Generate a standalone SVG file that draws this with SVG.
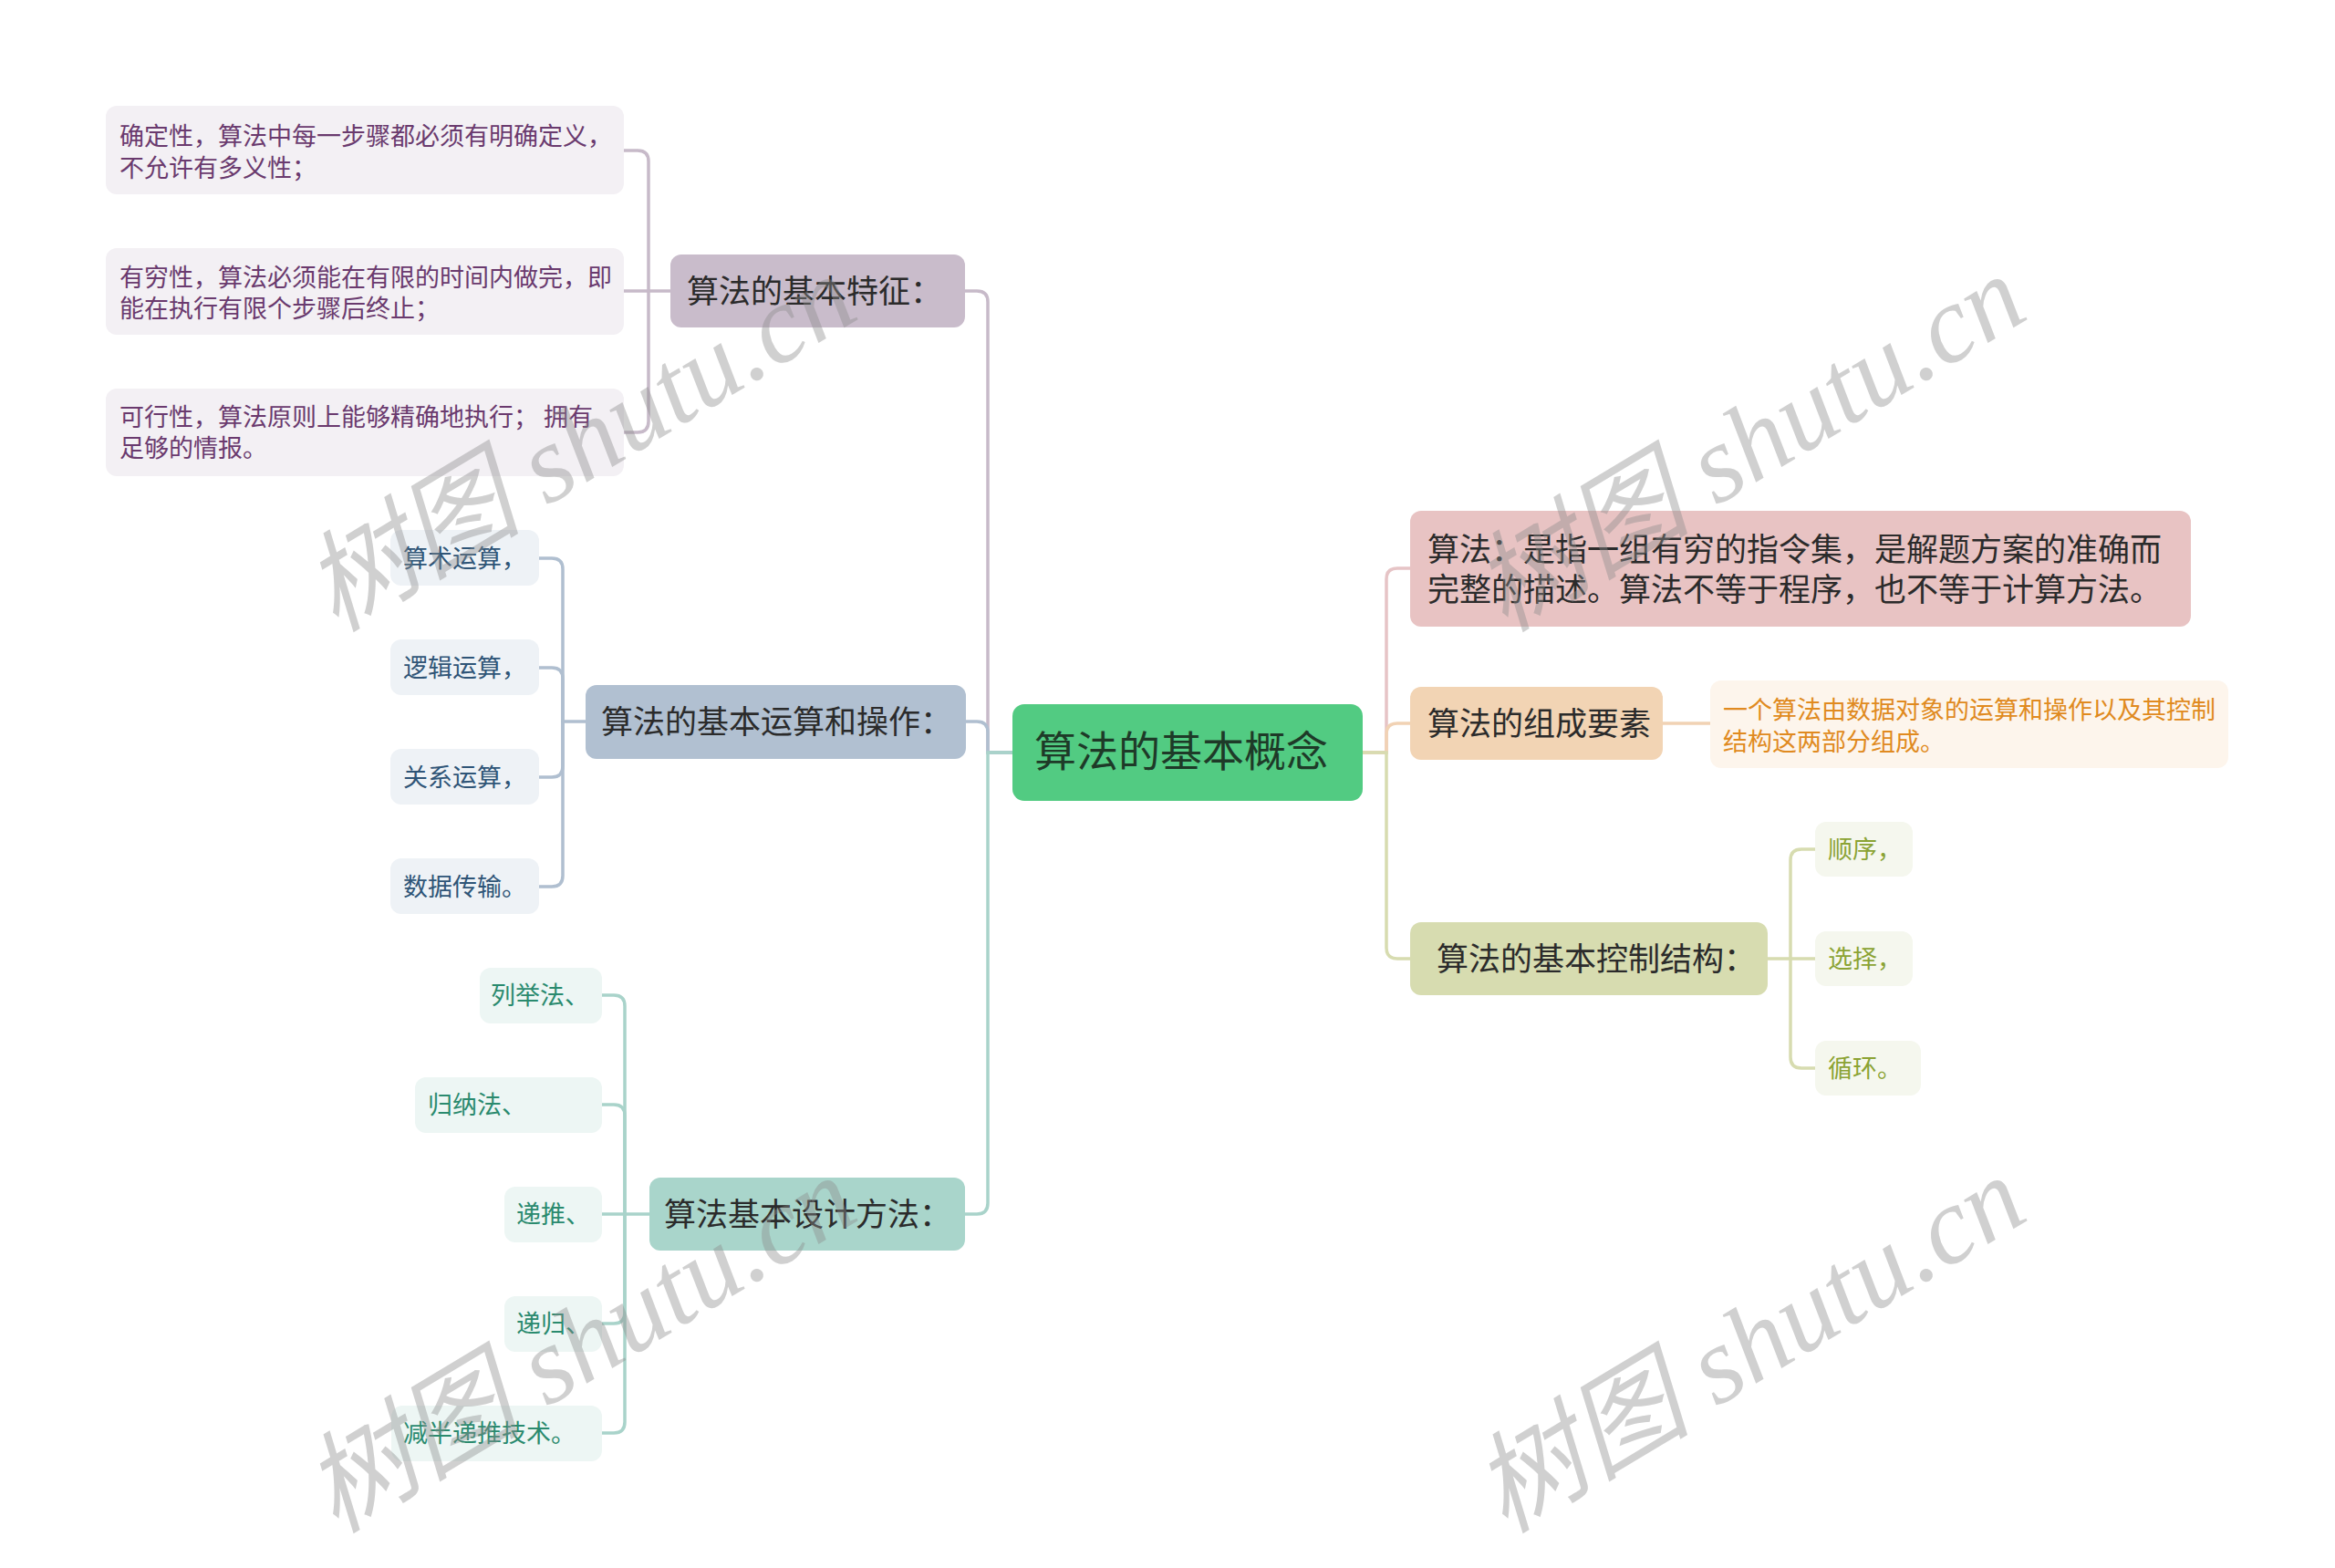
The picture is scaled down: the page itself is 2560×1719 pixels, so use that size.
<svg xmlns="http://www.w3.org/2000/svg" width="2560" height="1719" viewBox="0 0 2560 1719">
<style>
text{font-family:"Noto Sans CJK SC","Noto Sans",sans-serif}
.l1{font-size:35px;fill:#2b2b2b}
.root{font-size:46px;fill:#1e3a28}
.lf{font-size:27px}
.ln{fill:none;stroke-width:3.5;stroke-linecap:round}
.wm{font-family:"Liberation Serif","Noto Sans CJK SC",serif;font-size:120px;font-style:italic;fill:#8c8c8c;opacity:0.4}
</style>
<rect width="2560" height="1719" fill="#ffffff"/>
<g id="connectors">
  <path class="ln" stroke="#c7bac9" d="M1058,319 H1071 Q1083,319 1083,331 V825 H1110"/>
  <path class="ln" stroke="#b0bfd0" d="M1059,791 H1071 Q1083,791 1083,803 V825 H1110"/>
  <path class="ln" stroke="#a9d3ca" d="M1058,1331 H1071 Q1083,1331 1083,1319 V825 H1110"/>
  <path class="ln" stroke="#e6c4c6" d="M1494,825 H1520 V635 Q1520,623 1532,623 H1546"/>
  <path class="ln" stroke="#f1d2b4" d="M1494,825 H1520 V805 Q1520,793 1532,793 H1546"/>
  <path class="ln" stroke="#d7dcb0" d="M1494,825 H1520 V1039 Q1520,1051 1532,1051 H1546"/>
  <path class="ln" stroke="#c7bac9" d="M736,319 H711 V177 Q711,165 699,165 H684"/>
  <path class="ln" stroke="#c7bac9" d="M711,319 H684"/>
  <path class="ln" stroke="#c7bac9" d="M711,319 V462 Q711,474 699,474 H684"/>
  <path class="ln" stroke="#b0bfd0" d="M642,791 H617 V624 Q617,612 605,612 H591"/>
  <path class="ln" stroke="#b0bfd0" d="M617,791 V744 Q617,732 605,732 H591"/>
  <path class="ln" stroke="#b0bfd0" d="M617,791 V840 Q617,852 605,852 H591"/>
  <path class="ln" stroke="#b0bfd0" d="M617,791 V960 Q617,972 605,972 H591"/>
  <path class="ln" stroke="#a9d3ca" d="M712,1331 H685 V1103 Q685,1091 673,1091 H660"/>
  <path class="ln" stroke="#a9d3ca" d="M685,1331 V1223 Q685,1211 673,1211 H660"/>
  <path class="ln" stroke="#a9d3ca" d="M685,1331 H660"/>
  <path class="ln" stroke="#a9d3ca" d="M685,1331 V1439 Q685,1451 673,1451 H660"/>
  <path class="ln" stroke="#a9d3ca" d="M685,1331 V1559 Q685,1571 673,1571 H660"/>
  <path class="ln" stroke="#f1d2b4" d="M1823,793 H1876"/>
  <path class="ln" stroke="#d7dcb0" d="M1938,1051 H1963 V943 Q1963,931 1975,931 H1990"/>
  <path class="ln" stroke="#d7dcb0" d="M1963,1051 H1990"/>
  <path class="ln" stroke="#d7dcb0" d="M1963,1051 V1159 Q1963,1171 1975,1171 H1990"/>
</g>

<g id="root">
  <rect x="1110" y="772" width="384" height="106" rx="13" fill="#52cb82"/>
  <text class="root" x="1134" y="840">算法的基本概念</text>
</g>

<g id="n-tezheng">
  <rect x="735" y="279" width="323" height="80" rx="12" fill="#c9bccb"/>
  <text class="l1" x="753" y="332">算法的基本特征：</text>
</g>
<g id="n-queding">
  <rect x="116" y="116" width="568" height="97" rx="12" fill="#f3f0f4"/>
  <text class="lf" fill="#6a3a6e"><tspan x="131" y="159">确定性，算法中每一步骤都必须有明确定义，</tspan><tspan x="131" y="194">不允许有多义性；</tspan></text>
</g>
<g id="n-youqiong">
  <rect x="116" y="272" width="568" height="95" rx="12" fill="#f3f0f4"/>
  <text class="lf" fill="#6a3a6e"><tspan x="131" y="314">有穷性，算法必须能在有限的时间内做完，即</tspan><tspan x="131" y="348">能在执行有限个步骤后终止；</tspan></text>
</g>
<g id="n-kexing">
  <rect x="116" y="426" width="568" height="96" rx="12" fill="#f3f0f4"/>
  <text class="lf" fill="#6a3a6e"><tspan x="131" y="467">可行性，算法原则上能够精确地执行； 拥有</tspan><tspan x="131" y="501">足够的情报。</tspan></text>
</g>

<g id="n-yunsuan">
  <rect x="642" y="751" width="417" height="81" rx="12" fill="#b1c0d1"/>
  <text class="l1" x="659" y="804">算法的基本运算和操作：</text>
</g>
<g id="n-suanshu">
  <rect x="428" y="581" width="163" height="61" rx="12" fill="#eef2f6"/>
  <text class="lf" fill="#2f5577" x="442" y="622">算术运算，</text>
</g>
<g id="n-luoji">
  <rect x="428" y="701" width="163" height="61" rx="12" fill="#eef2f6"/>
  <text class="lf" fill="#2f5577" x="442" y="742">逻辑运算，</text>
</g>
<g id="n-guanxi">
  <rect x="428" y="821" width="163" height="61" rx="12" fill="#eef2f6"/>
  <text class="lf" fill="#2f5577" x="442" y="862">关系运算，</text>
</g>
<g id="n-shuju">
  <rect x="428" y="941" width="163" height="61" rx="12" fill="#eef2f6"/>
  <text class="lf" fill="#2f5577" x="442" y="982">数据传输。</text>
</g>

<g id="n-sheji">
  <rect x="712" y="1291" width="346" height="80" rx="12" fill="#a9d5cb"/>
  <text class="l1" x="728" y="1344">算法基本设计方法：</text>
</g>
<g id="n-lieju">
  <rect x="526" y="1061" width="134" height="61" rx="12" fill="#edf6f4"/>
  <text class="lf" fill="#2a8a6e" x="538" y="1101">列举法、</text>
</g>
<g id="n-guina">
  <rect x="455" y="1181" width="205" height="61" rx="12" fill="#edf6f4"/>
  <text class="lf" fill="#2a8a6e" x="469" y="1221">归纳法、</text>
</g>
<g id="n-ditui">
  <rect x="553" y="1301" width="107" height="61" rx="12" fill="#edf6f4"/>
  <text class="lf" fill="#2a8a6e" x="566" y="1341">递推、</text>
</g>
<g id="n-digui">
  <rect x="553" y="1421" width="107" height="61" rx="12" fill="#edf6f4"/>
  <text class="lf" fill="#2a8a6e" x="566" y="1461">递归、</text>
</g>
<g id="n-jianban">
  <rect x="429" y="1541" width="231" height="61" rx="12" fill="#edf6f4"/>
  <text class="lf" fill="#2a8a6e" x="442" y="1581">减半递推技术。</text>
</g>

<g id="n-dingyi">
  <rect x="1546" y="560" width="856" height="127" rx="12" fill="#e8c3c3"/>
  <text class="l1"><tspan x="1565" y="615">算法：是指一组有穷的指令集，是解题方案的准确而</tspan><tspan x="1565" y="659">完整的描述。算法不等于程序，也不等于计算方法。</tspan></text>
</g>
<g id="n-zucheng">
  <rect x="1546" y="753" width="277" height="80" rx="12" fill="#f2d4b4"/>
  <text class="l1" x="1565" y="806">算法的组成要素</text>
</g>
<g id="n-zucheng-leaf">
  <rect x="1875" y="746" width="568" height="96" rx="12" fill="#fdf5ec"/>
  <text class="lf" fill="#e08a20"><tspan x="1889" y="788">一个算法由数据对象的运算和操作以及其控制</tspan><tspan x="1889" y="823">结构这两部分组成。</tspan></text>
</g>
<g id="n-kongzhi">
  <rect x="1546" y="1011" width="392" height="80" rx="12" fill="#d7dcb0"/>
  <text class="l1" x="1575" y="1064">算法的基本控制结构：</text>
</g>
<g id="n-shunxu">
  <rect x="1990" y="901" width="107" height="60" rx="12" fill="#f5f7ee"/>
  <text class="lf" fill="#8ba334" x="2004" y="941">顺序，</text>
</g>
<g id="n-xuanze">
  <rect x="1990" y="1021" width="107" height="60" rx="12" fill="#f5f7ee"/>
  <text class="lf" fill="#8ba334" x="2004" y="1061">选择，</text>
</g>
<g id="n-xunhuan">
  <rect x="1990" y="1141" width="116" height="60" rx="12" fill="#f5f7ee"/>
  <text class="lf" fill="#8ba334" x="2004" y="1181">循环。</text>
</g>

<g id="watermarks">
  <text class="wm" transform="translate(368,694) rotate(-31)">树图 shutu.cn</text>
  <text class="wm" transform="translate(1650,694) rotate(-31)">树图 shutu.cn</text>
  <text class="wm" transform="translate(368,1682) rotate(-31)">树图 shutu.cn</text>
  <text class="wm" transform="translate(1650,1682) rotate(-31)">树图 shutu.cn</text>
</g>
</svg>
